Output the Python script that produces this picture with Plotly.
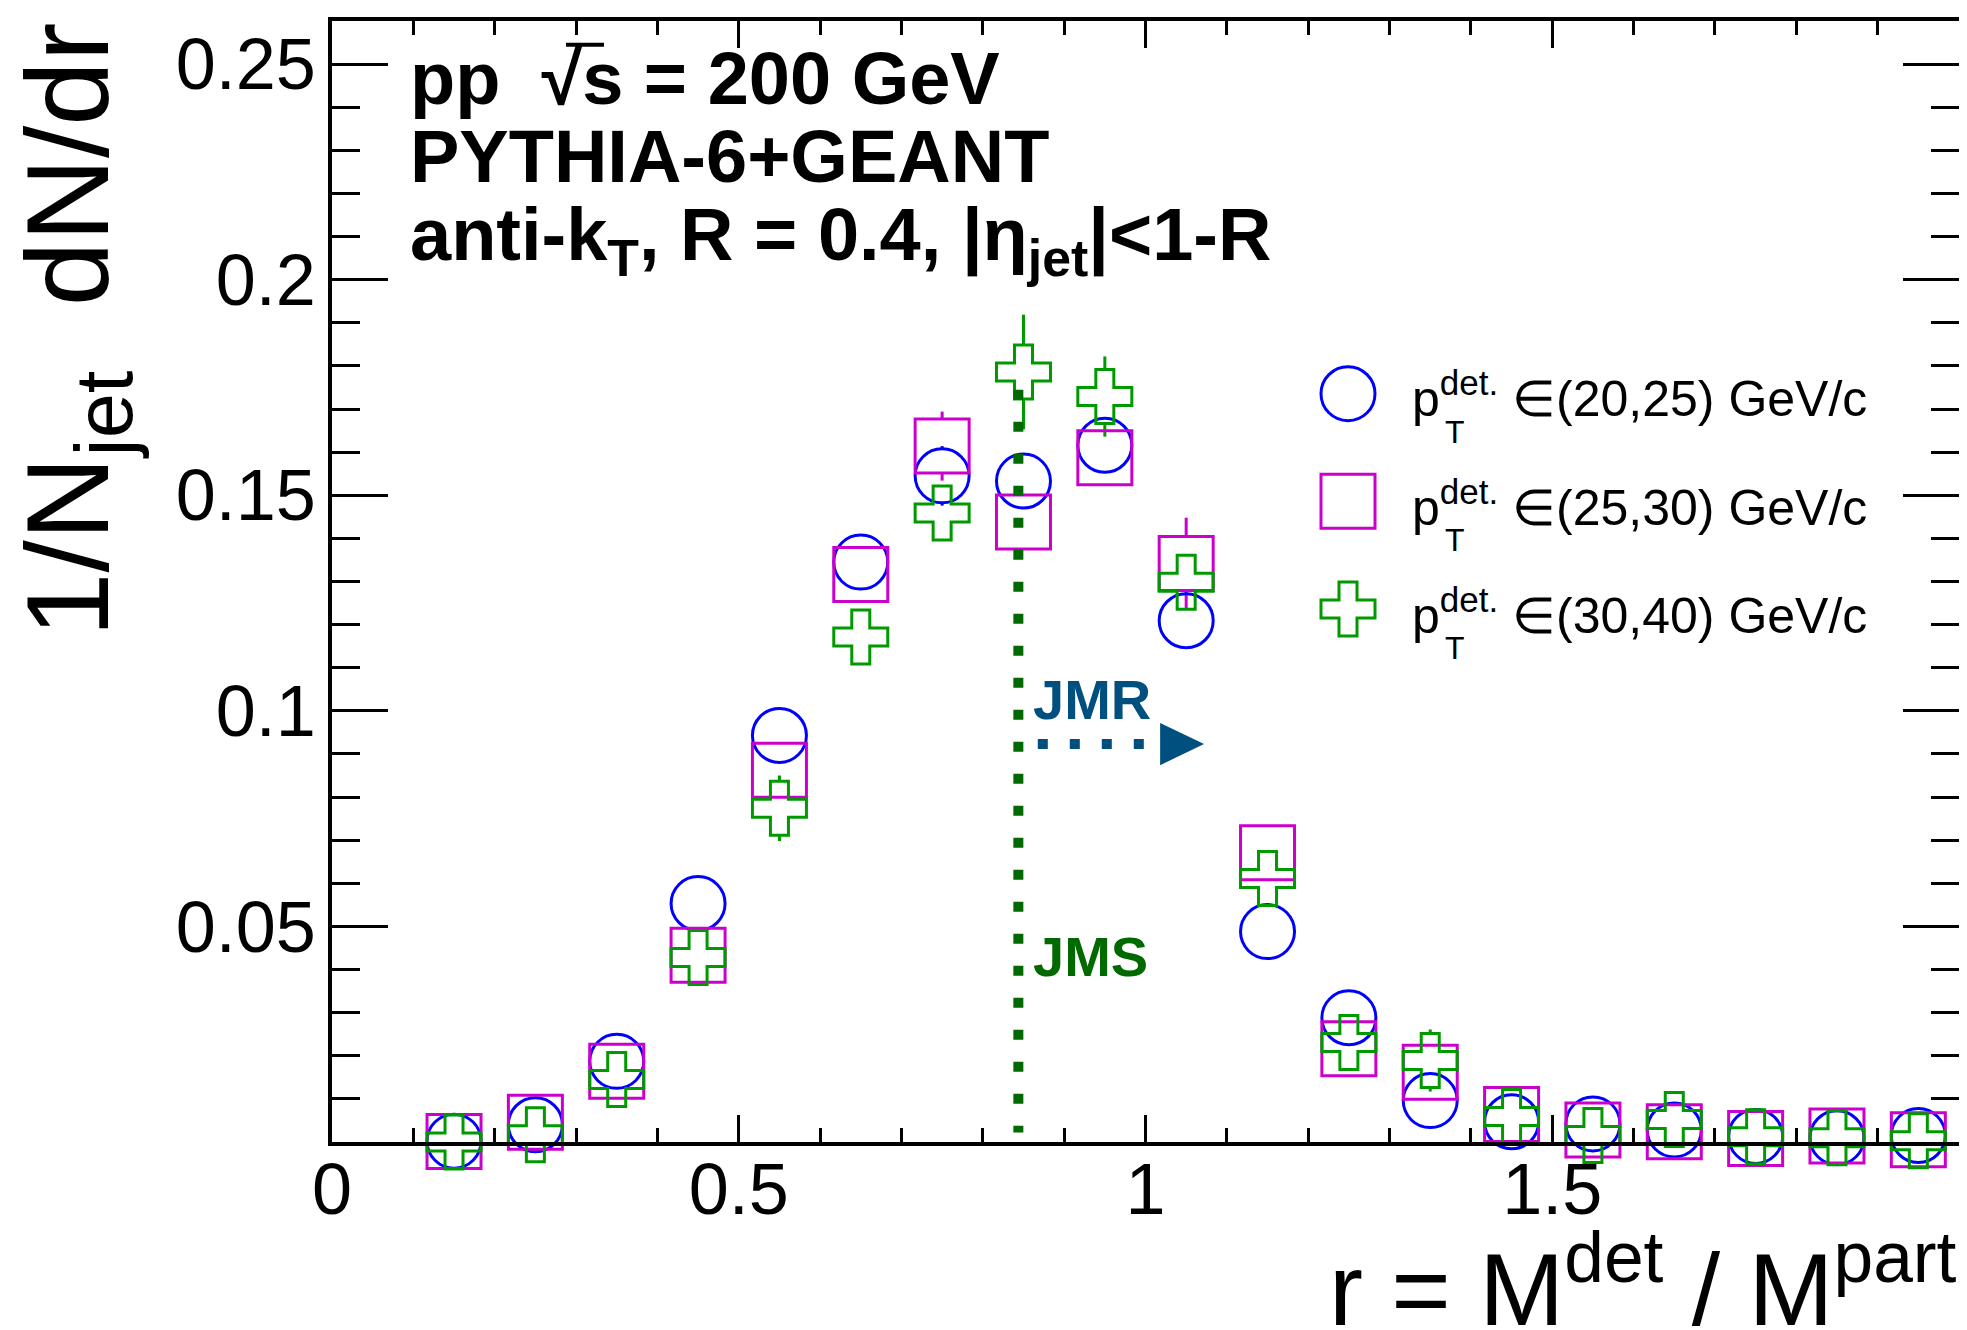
import plotly.graph_objects as go

# ---------------- data ----------------
r_bins = [0.15, 0.25, 0.35, 0.45, 0.55, 0.65, 0.75, 0.85, 0.95, 1.05,
          1.15, 1.25, 1.35, 1.45, 1.55, 1.65, 1.75, 1.85, 1.95]

dndr_20_25 = [0.0002, 0.0040, 0.0187, 0.0553, 0.0943, 0.1345, 0.1545, 0.1533, 0.1616, 0.1209,
              0.0488, 0.0288, 0.0096, 0.0047, 0.0042, 0.0028, 0.0013, 0.0010, 0.0015]
err_20_25 = [0.0003, 0.0008, 0.0018, 0.0032, 0.0043, 0.0053, 0.0069, 0.0055, 0.0058, 0.0050,
             0.0032, 0.0024, 0.0014, 0.0010, 0.0009, 0.0008, 0.0005, 0.0005, 0.0006]

dndr_25_30 = [0.0001, 0.0046, 0.0164, 0.0433, 0.0862, 0.1316, 0.1614, 0.1438, 0.1587, 0.1342,
              0.0671, 0.0216, 0.0162, 0.0064, 0.0028, 0.0024, 0.0008, 0.0014, 0.0005]
err_25_30 = [0.0002, 0.0010, 0.0020, 0.0035, 0.0050, 0.0060, 0.0080, 0.0058, 0.0062, 0.0106,
             0.0045, 0.0025, 0.0030, 0.0015, 0.0010, 0.0010, 0.0006, 0.0008, 0.0005]

dndr_30_40 = [0.0000, 0.0017, 0.0145, 0.0428, 0.0774, 0.1171, 0.1459, 0.1786, 0.1729, 0.1298,
              0.0611, 0.0231, 0.0189, 0.0059, 0.0015, 0.0052, 0.0012, 0.0010, 0.0003]
err_30_40 = [0.0002, 0.0010, 0.0025, 0.0045, 0.0076, 0.0060, 0.0062, 0.0133, 0.0093, 0.0058,
             0.0050, 0.0035, 0.0072, 0.0025, 0.0012, 0.0030, 0.0008, 0.0008, 0.0004]

series_ranges = ["\u2208(20,25) GeV/c", "\u2208(25,30) GeV/c", "\u2208(30,40) GeV/c"]

x_tickvals = [0, 0.5, 1, 1.5, 2]
x_ticktext = ["0", "0.5", "1", "1.5", ""]
y_tickvals = [0.05, 0.1, 0.15, 0.2, 0.25]
y_ticktext = ["0.05", "0.1", "0.15", "0.2", "0.25"]

x_range = [0, 2]
y_range = [0, 0.26]

jms_r = 0.8437          # vertical JMS marker line
jms_top = 0.1745
jms_bottom = 0.0022
jmr_y = 0.0923          # horizontal JMR arrow
jmr_x0, jmr_x1 = 0.8676, 0.9983
jmr_head = (1.018, 1.072, 0.0049)   # head x-start, tip x, half-height

# ---------------- styling / geometry ----------------
W, H = 1967, 1330
OFF = 8                      # default page (body) margin
P_L, P_R, P_T, P_B = 332, 1959, 17, 1142   # plot area in page pixels
ML, MT = P_L - OFF, P_T - OFF
MR, MB = W - (P_R - OFF), H - (P_B - OFF)
PW, PH = W - ML - MR, H - MT - MB
FONT = "Liberation Sans, Arial, Helvetica, sans-serif"

C_BLUE = "#0000ff"
C_MAG = "#cc00cc"
C_GREEN = "#009900"
C_JMS = "#006a00"
C_JMR = "#00507f"

MARKER_LW = 3
SZ_CIRCLE, SZ_SQUARE, SZ_CROSS = 54, 54, 45
half_px = 27
half_data = half_px * (y_range[1] - y_range[0]) / PH


def X(xp):
    return (xp - P_L) / (P_R - P_L)


def Y(yp):
    return (P_B - yp) / (P_B - P_T)


def err_segments(x, y, e, half):
    xs, ys = [], []
    for xi, yi, ei in zip(x, y, e):
        if ei > half:
            xs += [xi, xi, None, xi, xi, None]
            ys += [yi + half, yi + ei, None, yi - ei, yi - half, None]
    return xs, ys


series = [
    (dndr_20_25, err_20_25, C_BLUE, "circle-open", SZ_CIRCLE),
    (dndr_25_30, err_25_30, C_MAG, "square-open", SZ_SQUARE),
    (dndr_30_40, err_30_40, C_GREEN, "cross-open", SZ_CROSS),
]

fig = go.Figure()
for vals, errs, col, sym, sz in series:
    ex, ey = err_segments(r_bins, vals, errs, half_data)
    fig.add_trace(go.Scatter(x=ex, y=ey, mode="lines", line=dict(color=col, width=3),
                             cliponaxis=False, hoverinfo="skip", showlegend=False))
for vals, errs, col, sym, sz in series:
    fig.add_trace(go.Scatter(x=r_bins, y=vals, mode="markers", cliponaxis=False,
                             marker=dict(symbol=sym, size=sz, color=col,
                                         line=dict(color=col, width=MARKER_LW)),
                             showlegend=False))

# legend symbols on a pixel-space overlay axis (page pixels)
leg_x = 1348
leg_y = [391, 499, 607]
leg_base = [413, 522, 630]
for (vals, errs, col, sym, sz), ly in zip(series, leg_y):
    fig.add_trace(go.Scatter(x=[leg_x], y=[ly], xaxis="x2", yaxis="y2", mode="markers",
                             cliponaxis=False,
                             marker=dict(symbol=sym, size=sz, color=col,
                                         line=dict(color=col, width=MARKER_LW)),
                             showlegend=False, hoverinfo="skip"))

ann = []


def txt(text, xp, yp, size, xa="left", ya="top", color="black", angle=0):
    ann.append(dict(text=text, x=X(xp), y=Y(yp), xref="paper", yref="paper",
                    xanchor=xa, yanchor=ya,
                    showarrow=False, textangle=angle, borderpad=0, borderwidth=0,
                    font=dict(family=FONT, size=size, color=color)))


HDR = 74
# header text block
txt("<b>pp  \u221as = 200 GeV</b>", 410, 100 - 0.905 * HDR, HDR)
txt("<b>PYTHIA-6+GEANT</b>", 410, 178 - 0.905 * HDR, HDR)
txt("<b>anti-k<sub>T</sub>, R = 0.4, |\u03b7<sub>jet</sub>|&lt;1-R</b>", 410, 257 - 0.905 * HDR, HDR)

# JMR / JMS labels
LAB = 56
txt("<b>JMR</b>", 1033, 717 - 0.905 * LAB, LAB, color=C_JMR)
txt("<b>JMS</b>", 1033, 975 - 0.905 * LAB, LAB, color=C_JMS)

# legend texts
LEG = 50
for lab, b in zip(series_ranges, leg_base):
    txt("p<sup>det.</sup> " + lab, 1412, b + 0.236 * LEG, LEG, ya="bottom")
    txt("T", 1445, b + 27 - 0.905 * 32, 32)

# axis titles
txt("1/N<sub>jet</sub>  dN/dr", 76, 327, 116, xa="center", ya="middle", angle=-90)
txt("r = M<sup>det</sup> / M<sup>part</sup>", 1957, 1325.7 + 0.212 * 102, 102, xa="right", ya="bottom")

shapes = [
    dict(type="line", xref="x", yref="y", x0=jms_r, x1=jms_r, y0=jms_top, y1=jms_bottom,
         line=dict(color=C_JMS, width=10, dash="10px,22px")),
    dict(type="line", xref="x", yref="y", x0=jmr_x0, x1=jmr_x1, y0=jmr_y, y1=jmr_y,
         line=dict(color=C_JMR, width=10, dash="10px,22px")),
    dict(type="path", xref="x", yref="y",
         path=f"M {jmr_head[0]},{jmr_y + jmr_head[2]} L {jmr_head[1]},{jmr_y} "
              f"L {jmr_head[0]},{jmr_y - jmr_head[2]} Z",
         fillcolor=C_JMR, line=dict(width=0)),
    # overline of the square root over "s"
    dict(type="line", xref="paper", yref="paper", x0=X(566), x1=X(604),
         y0=Y(100 - 0.80 * HDR), y1=Y(100 - 0.80 * HDR),
         line=dict(color="black", width=4)),
]

axis_common = dict(showgrid=False, zeroline=False, showline=True, linecolor="black",
                   linewidth=3.5, mirror="allticks", ticks="inside", tickcolor="black",
                   tickwidth=3, tickfont=dict(family=FONT, size=72, color="black"))

fig.update_layout(
    width=W, height=H,
    margin=dict(l=ML, r=MR, t=MT, b=MB, pad=0),
    paper_bgcolor="white", plot_bgcolor="white",
    showlegend=False,
    font=dict(family=FONT, color="black"),
    xaxis=dict(range=x_range, tickmode="array", tickvals=x_tickvals, ticktext=x_ticktext,
               ticklen=27, ticklabelstandoff=-18,
               minor=dict(tickmode="linear", tick0=0, dtick=0.1, ticklen=14, tickwidth=3,
                          tickcolor="black", ticks="inside", showgrid=False),
               **axis_common),
    yaxis=dict(range=y_range, tickmode="array", tickvals=y_tickvals, ticktext=y_ticktext,
               ticklen=56, ticklabelstandoff=-2,
               minor=dict(tickmode="linear", tick0=0, dtick=0.01, ticklen=28, tickwidth=3,
                          tickcolor="black", ticks="inside", showgrid=False),
               **axis_common),
    xaxis2=dict(overlaying="x", range=[P_L, P_R], visible=False, fixedrange=True),
    yaxis2=dict(overlaying="y", range=[P_B, P_T], visible=False, fixedrange=True),
    annotations=ann,
    shapes=shapes,
)

fig.write_html("out.html")
